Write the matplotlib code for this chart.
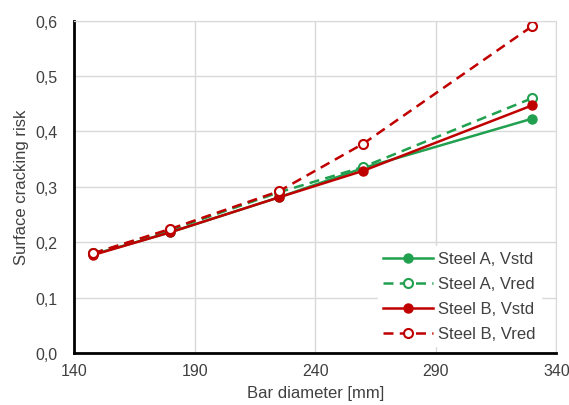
import matplotlib.pyplot as plt
import matplotlib.ticker as mticker

plt.rcParams["font.family"] = ["Liberation Sans", "DejaVu Sans"]

diameter = [148, 180, 225, 260, 330]
steel_a_vstd = [0.178, 0.218, 0.281, 0.334, 0.423]
steel_a_vred = [0.180, 0.222, 0.290, 0.336, 0.460]
steel_b_vstd = [0.177, 0.218, 0.281, 0.329, 0.447]
steel_b_vred = [0.180, 0.224, 0.292, 0.378, 0.590]

green = "#21A04F"
red = "#C00000"

fig = plt.figure(figsize=(5.69, 4.06), dpi=100)
ax = fig.add_axes([0.130, 0.128, 0.848, 0.819])

ax.plot(diameter, steel_a_vstd, color=green, lw=1.8, marker="o", ms=6.5,
        label="Steel A, Vstd")
ax.plot(diameter, steel_a_vred, color=green, lw=1.8, ls=(0, (4, 2.5)), marker="o", ms=6.5,
        mfc="white", mew=1.5, label="Steel A, Vred")
ax.plot(diameter, steel_b_vstd, color=red, lw=1.8, marker="o", ms=6.5,
        label="Steel B, Vstd")
ax.plot(diameter, steel_b_vred, color=red, lw=1.8, ls=(0, (4, 2.5)), marker="o", ms=6.5,
        mfc="white", mew=1.5, label="Steel B, Vred")

ax.set_xlim(140, 340)
ax.set_ylim(0, 0.6)
ax.set_xticks(range(140, 341, 50))
ax.set_yticks([0, 0.1, 0.2, 0.3, 0.4, 0.5, 0.6])
ax.yaxis.set_major_formatter(mticker.FuncFormatter(lambda v, p: f"{v:.1f}".replace(".", ",")))
ax.tick_params(length=0, labelsize=11.5, colors="#404040")
ax.tick_params(axis="y", pad=12)
ax.tick_params(axis="x", pad=7)
ax.grid(color="#d9d9d9", lw=1)
ax.set_axisbelow(True)
for s in ["top", "right"]:
    ax.spines[s].set_color("#d9d9d9")
for s in ["left", "bottom"]:
    ax.spines[s].set_color("black")
    ax.spines[s].set_linewidth(2)

ax.set_xlabel("Bar diameter [mm]", fontsize=12, color="#404040", labelpad=5)
ax.set_ylabel("Surface cracking risk", fontsize=12, color="#404040", labelpad=4)

leg = ax.legend(loc="lower right", fontsize=12, frameon=True, framealpha=1,
                edgecolor="white", facecolor="white", fancybox=False,
                handlelength=3.0, labelspacing=0.6, borderpad=0.3, handletextpad=0.3,
                bbox_to_anchor=(0.985, -0.005))
for t in leg.get_texts():
    t.set_color("#404040")

fig.savefig("out.png", dpi=100)
